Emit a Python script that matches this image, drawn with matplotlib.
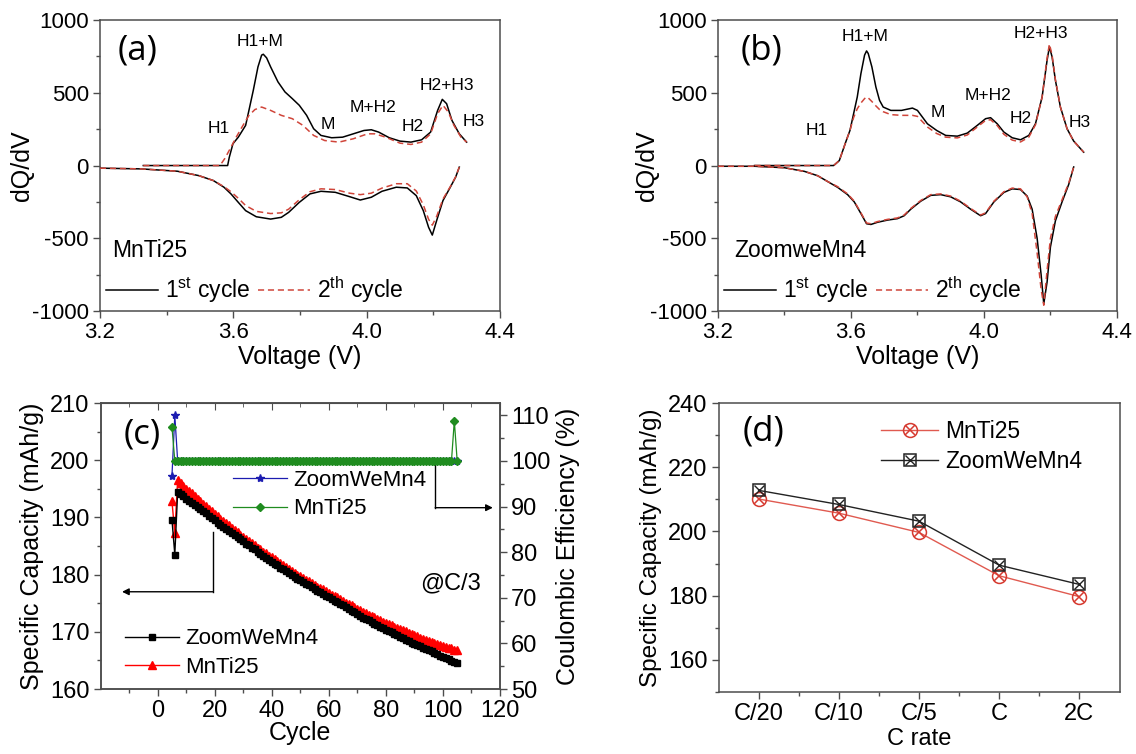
import numpy as np
import matplotlib
matplotlib.use('Agg')
import matplotlib.pyplot as plt
from matplotlib.ticker import MultipleLocator, FixedLocator

plt.rcParams['font.family'] = ['Liberation Sans', 'DejaVu Sans']
plt.rcParams['mathtext.fontset'] = 'custom'
plt.rcParams['mathtext.rm'] = 'Liberation Sans'
plt.rcParams['mathtext.it'] = 'Liberation Sans:italic'
plt.rcParams['axes.unicode_minus'] = False

# ---- (a) MnTi25 dQ/dV ----
a_v1_chg = [3.33, 3.45, 3.583, 3.588, 3.599, 3.615, 3.637, 3.647, 3.660, 3.674, 3.685, 3.690, 3.700,
            3.712, 3.734, 3.755, 3.777, 3.798, 3.820, 3.841, 3.863, 3.895, 3.928, 3.960, 3.992, 4.014,
            4.036, 4.068, 4.100, 4.133, 4.165, 4.192, 4.213, 4.227, 4.240, 4.256, 4.278, 4.300]
a_q1_chg = [0, 0, 0, 57, 150, 195, 276, 380, 517, 678, 759, 765, 740, 678, 575, 506, 460, 414, 345,
            253, 207, 191, 195, 218, 241, 246, 230, 191, 168, 161, 177, 230, 379, 455, 425, 310, 218, 161]
a_v2_chg = [3.33, 3.45, 3.560, 3.575, 3.593, 3.610, 3.626, 3.647, 3.665, 3.685, 3.712, 3.744, 3.777,
            3.809, 3.841, 3.874, 3.917, 3.960, 4.003, 4.025, 4.057, 4.100, 4.133, 4.165, 4.192, 4.213,
            4.229, 4.245, 4.262, 4.283, 4.300]
a_q2_chg = [0, 0, 0, 50, 126, 200, 264, 345, 385, 402, 379, 345, 322, 276, 207, 172, 161, 184, 218,
            218, 195, 154, 145, 161, 218, 356, 414, 368, 276, 195, 161]
a_v_dis = [3.2, 3.324, 3.432, 3.496, 3.54, 3.572, 3.593, 3.615, 3.637, 3.669, 3.712, 3.744, 3.766,
           3.798, 3.83, 3.863, 3.906, 3.949, 3.981, 4.014, 4.046, 4.089, 4.122, 4.149, 4.17, 4.186,
           4.197, 4.21, 4.229, 4.251, 4.267, 4.278]
a_q1_dis = [-18, -23, -39, -69, -103, -149, -195, -253, -310, -352, -368, -356, -322, -253, -195, -177,
            -184, -214, -237, -218, -177, -149, -154, -207, -310, -425, -478, -379, -241, -149, -80, -11]
a_q2_dis = [-18, -23, -39, -69, -103, -145, -180, -225, -275, -315, -330, -325, -300, -235, -180, -160,
            -165, -190, -200, -190, -155, -125, -125, -175, -270, -370, -410, -350, -230, -145, -78, -11]

# ---- (b) ZoomweMn4 dQ/dV ----
b_v_chg = [3.31, 3.548, 3.565, 3.586, 3.597, 3.608, 3.619, 3.63, 3.641, 3.647, 3.652, 3.663, 3.675,
           3.686, 3.697, 3.72, 3.752, 3.785, 3.80, 3.83, 3.858, 3.885, 3.92, 3.95, 3.98, 4.005, 4.02,
           4.04, 4.06, 4.085, 4.11, 4.135, 4.155, 4.175, 4.19, 4.197, 4.205, 4.215, 4.23, 4.25, 4.27, 4.30]
b_q1_chg = [0, 0, 34, 172, 241, 356, 471, 632, 759, 788, 770, 678, 540, 448, 402, 379, 379, 395, 379,
            287, 241, 207, 202, 223, 276, 322, 329, 287, 230, 191, 177, 207, 287, 471, 724, 816, 747,
            586, 402, 253, 168, 92]
b_q2_chg = [0, 0, 34, 172, 241, 330, 390, 430, 460, 471, 465, 440, 410, 385, 370, 350, 345, 345, 338,
            265, 220, 195, 190, 210, 265, 310, 315, 275, 215, 175, 162, 195, 280, 470, 740, 835, 760,
            590, 402, 253, 168, 92]
b_v_dis = [3.2, 3.31, 3.4, 3.46, 3.5, 3.53, 3.56, 3.59, 3.61, 3.63, 3.647, 3.66, 3.68, 3.71, 3.74,
           3.76, 3.78, 3.81, 3.84, 3.87, 3.9, 3.93, 3.96, 3.99, 4.005, 4.03, 4.06, 4.085, 4.11, 4.13,
           4.145, 4.16, 4.172, 4.18, 4.19, 4.2, 4.215, 4.235, 4.255, 4.27]
b_q1_dis = [-5, -5, -15, -40, -70, -110, -150, -200, -250, -330, -400, -405, -390, -375, -365, -345,
            -300, -245, -205, -200, -215, -250, -300, -345, -330, -250, -185, -160, -165, -210, -300,
            -500, -750, -950, -800, -560, -380, -250, -130, -10]
b_q2_dis = [-5, -5, -15, -40, -70, -110, -145, -195, -245, -325, -395, -400, -385, -370, -360, -340,
            -295, -240, -200, -195, -210, -245, -295, -340, -325, -245, -180, -155, -160, -215, -330,
            -600, -850, -960, -720, -500, -350, -235, -120, -10]

# ---- (c) cycling at C/3 ----
cycles = np.arange(5, 106)
cap_zoom = [189.6, 183.5,
            194.5, 194.1, 193.7, 193.3, 192.9, 192.6, 192.2, 191.9, 191.5,
            191.1, 190.7, 190.3, 189.9, 189.5, 189.1, 188.7, 188.4, 188.0, 187.6,
            187.2, 186.9, 186.5, 186.2, 185.8, 185.4, 185.1, 184.7, 184.4, 184.0,
            183.6, 183.3, 182.9, 182.6, 182.2, 181.9, 181.6, 181.2, 180.9, 180.6,
            180.3, 179.9, 179.6, 179.3, 179.0, 178.7, 178.4, 178.1, 177.8, 177.5,
            177.2, 176.9, 176.6, 176.3, 176.0, 175.7, 175.4, 175.2, 174.9, 174.6,
            174.3, 174.0, 173.7, 173.4, 173.1, 172.8, 172.5, 172.3, 172.0, 171.7,
            171.4, 171.2, 170.9, 170.7, 170.4, 170.1, 169.9, 169.6, 169.4, 169.1,
            168.9, 168.6, 168.4, 168.1, 167.9, 167.7, 167.5, 167.2, 167.0, 166.8,
            166.6, 166.3, 166.1, 165.8, 165.6, 165.4, 165.2, 164.9, 164.7, 164.5]
cap_mnti = [192.8, 187.3,
            196.6, 196.1, 195.5, 195.0, 194.6, 194.2, 193.7, 193.3, 192.9,
            192.4, 192.0, 191.5, 191.1, 190.6, 190.2, 189.8, 189.4, 189.0, 188.6,
            188.2, 187.8, 187.4, 187.0, 186.6, 186.2, 185.8, 185.5, 185.1, 184.7,
            184.4, 184.0, 183.7, 183.3, 183.0, 182.7, 182.3, 182.0, 181.6, 181.3,
            181.0, 180.7, 180.3, 180.0, 179.7, 179.4, 179.1, 178.8, 178.5, 178.2,
            177.9, 177.6, 177.4, 177.1, 176.8, 176.5, 176.2, 176.0, 175.7, 175.4,
            175.1, 174.8, 174.6, 174.3, 174.0, 173.8, 173.5, 173.3, 173.0, 172.8,
            172.6, 172.3, 172.1, 171.8, 171.6, 171.4, 171.2, 170.9, 170.7, 170.5,
            170.3, 170.1, 169.8, 169.6, 169.4, 169.2, 169.0, 168.8, 168.6, 168.4,
            168.2, 168.0, 167.9, 167.7, 167.5, 167.4, 167.2, 167.1, 166.9, 166.8]
ce_zoom = [96.7, 110.0,
           100, 100, 100, 100, 100, 100, 100, 100, 100, 100, 100, 100, 100, 100, 100, 100, 100, 100,
           100, 100, 100, 100, 100, 100, 100, 100, 100, 100, 100, 100, 100, 100, 100, 100, 100, 100,
           100, 100, 100, 100, 100, 100, 100, 100, 100, 100, 100, 100, 100, 100, 100, 100, 100, 100,
           100, 100, 100, 100, 100, 100, 100, 100, 100, 100, 100, 100, 100, 100, 100, 100, 100, 100,
           100, 100, 100, 100, 100, 100, 100, 100, 100, 100, 100, 100, 100, 100, 100, 100, 100, 100,
           100, 100, 100, 100, 100, 100, 100, 100, 100]
ce_mnti = [107.5, 100,
           100, 100, 100, 100, 100, 100, 100, 100, 100, 100, 100, 100, 100, 100, 100, 100, 100, 100,
           100, 100, 100, 100, 100, 100, 100, 100, 100, 100, 100, 100, 100, 100, 100, 100, 100, 100,
           100, 100, 100, 100, 100, 100, 100, 100, 100, 100, 100, 100, 100, 100, 100, 100, 100, 100,
           100, 100, 100, 100, 100, 100, 100, 100, 100, 100, 100, 100, 100, 100, 100, 100, 100, 100,
           100, 100, 100, 100, 100, 100, 100, 100, 100, 100, 100, 100, 100, 100, 100, 100, 100, 100,
           100, 100, 100, 100, 100, 100, 100, 108.8, 100]

# ---- (d) rate capability ----
rates = ['C/20', 'C/10', 'C/5', 'C', '2C']
rate_mnti = [210.1, 205.7, 199.7, 186.2, 179.7]
rate_zoom = [212.8, 208.4, 203.2, 189.5, 183.5]

SPINE = '#4d4d4d'
RED_DASH = '#d0453a'
TICK_FS = 16
LABEL_FS = 18

fig = plt.figure(figsize=(11.36, 7.54), dpi=100)
ax_a = fig.add_axes([0.0880, 0.5875, 0.3521, 0.3859])
ax_b = fig.add_axes([0.6320, 0.5875, 0.3512, 0.3859])
ax_c = fig.add_axes([0.0886, 0.0862, 0.3515, 0.3793])
ax_d = fig.add_axes([0.6325, 0.0822, 0.3530, 0.3833])


def frame(ax, fs=TICK_FS):
    for s in ax.spines.values():
        s.set_color(SPINE)
        s.set_linewidth(1.1)
    ax.tick_params(which='both', direction='out', color=SPINE, width=1.0, labelsize=fs, pad=3)
    ax.tick_params(which='major', length=5)
    ax.tick_params(which='minor', length=3)


def dqdv_panel(ax, tag, name, ylab_x, v1c, q1c, v2c, q2c, vd, q1d, q2d, notes):
    ax.plot(v1c, q1c, color='black', lw=1.1, zorder=3)
    ax.plot(vd, q1d, color='black', lw=1.1, zorder=3)
    l1, = ax.plot([], [], color='black', lw=1.1)
    ax.plot(v2c, q2c, color=RED_DASH, lw=1.1, dashes=(4, 2.5), zorder=4)
    ax.plot(vd, q2d, color=RED_DASH, lw=1.1, dashes=(4, 2.5), zorder=4)
    l2, = ax.plot([], [], color=RED_DASH, lw=1.1, dashes=(4, 2.5))
    ax.set_xlim(3.2, 4.4)
    ax.set_ylim(-1000, 1000)
    ax.set_xticks([3.2, 3.6, 4.0, 4.4])
    ax.set_xticklabels(['3.2', '3.6', '4.0', '4.4'])
    ax.xaxis.set_minor_locator(MultipleLocator(0.2))
    ax.set_yticks([-1000, -500, 0, 500, 1000])
    ax.yaxis.set_minor_locator(MultipleLocator(250))
    frame(ax)
    ax.set_xlabel('Voltage (V)', fontsize=LABEL_FS, labelpad=1)
    ax.set_ylabel('dQ/dV', fontsize=LABEL_FS)
    ax.yaxis.set_label_coords(ylab_x, 0.5)
    ax.text(tag[1], tag[2], tag[0], fontsize=25, family=['Open Sans', 'DejaVu Sans'],
            ha='center', va='center')
    ax.text(name[1], -586, name[0], fontsize=16.5, ha='left', va='center')
    for txt, x, y in notes:
        ax.text(x, y, txt, fontsize=12.5, ha='center', va='center')
    ax.legend([l1, l2], [r'1$^{\mathrm{st}}$ cycle', r'2$^{\mathrm{th}}$ cycle'],
              loc='lower left', ncol=2, frameon=False, fontsize=16.5, handlelength=2.3,
              handletextpad=0.3, columnspacing=0.3, borderpad=0.15, borderaxespad=0.1)


dqdv_panel(ax_a, ('(a)', 3.313, 793), ('MnTi25', 3.236), -0.165,
           a_v1_chg, a_q1_chg, a_v2_chg, a_q2_chg, a_v_dis, a_q1_dis, a_q2_dis,
           [('H1+M', 3.68, 850), ('H1', 3.556, 253), ('M', 3.885, 283), ('M+H2', 4.02, 402),
            ('H2', 4.138, 269), ('H2+H3', 4.24, 552), ('H3', 4.321, 306)])
dqdv_panel(ax_b, ('(b)', 3.332, 793), ('ZoomweMn4', 3.25), -0.148,
           b_v_chg, b_q1_chg, b_v_chg, b_q2_chg, b_v_dis, b_q1_dis, b_q2_dis,
           [('H1+M', 3.642, 885), ('H1', 3.498, 241), ('M', 3.862, 368), ('M+H2', 4.011, 483),
            ('H2', 4.111, 322), ('H2+H3', 4.171, 908), ('H3', 4.287, 299)])

# ---- (c) ----
ax_ce = ax_c.twinx()
h_cz, = ax_c.plot(cycles, cap_zoom, color='black', lw=1, marker='s', ms=5, zorder=3)
h_cm, = ax_c.plot(cycles, cap_mnti, color='#ff0000', lw=1, marker='^', ms=5.5, zorder=2)
h_ez, = ax_ce.plot(cycles, ce_zoom, color='#1c1cb0', lw=0.9, marker='*', ms=6)
h_em, = ax_ce.plot(cycles, ce_mnti, color='#1f8c1f', lw=0.9, marker='D', ms=3.8)
ax_c.set_xlim(-20, 120)
ax_c.set_ylim(160, 210)
ax_ce.set_ylim(50, 112.7)
ax_c.set_xticks(np.arange(0, 121, 20))
ax_c.xaxis.set_minor_locator(FixedLocator(np.arange(-10, 121, 10)))
ax_c.set_yticks(np.arange(160, 211, 10))
ax_c.yaxis.set_minor_locator(MultipleLocator(5))
ax_ce.set_yticks(np.arange(50, 111, 10))
ax_ce.yaxis.set_minor_locator(MultipleLocator(5))
frame(ax_c, 17)
frame(ax_ce, 17)
top = ax_c.secondary_xaxis('top')
top.set_xticks(np.arange(0, 121, 20))
top.xaxis.set_minor_locator(FixedLocator(np.arange(-10, 121, 10)))
top.tick_params(which='both', direction='in', labeltop=False, color=SPINE)
top.tick_params(which='major', length=5)
top.tick_params(which='minor', length=3)
top.spines['top'].set_color(SPINE)
ax_c.set_xlabel('Cycle', fontsize=LABEL_FS, labelpad=-1)
ax_c.set_ylabel('Specific Capacity (mAh/g)', fontsize=LABEL_FS, labelpad=4)
ax_ce.set_ylabel('Coulombic Efficiency (%)', fontsize=LABEL_FS, labelpad=4)
ax_c.text(-5.3, 204.5, '(c)', fontsize=25, family=['Open Sans', 'DejaVu Sans'],
          ha='center', va='center')
ax_c.text(102.7, 178.4, '@C/3', fontsize=17, ha='center', va='center')

# guide arrows pointing to each axis
ax_c.plot([19.3, 19.3], [187.4, 177.0], color='black', lw=1)
ax_c.annotate('', xy=(-12.5, 177.0), xytext=(19.3, 177.0),
              arrowprops=dict(arrowstyle='-|>', color='black', lw=1, mutation_scale=10,
                              shrinkA=0, shrinkB=0))
ax_c.plot([97.3, 97.3], [199.3, 191.7], color='black', lw=1)
ax_c.annotate('', xy=(117.5, 191.7), xytext=(97.3, 191.7),
              arrowprops=dict(arrowstyle='-|>', color='black', lw=1, mutation_scale=10,
                              shrinkA=0, shrinkB=0))

ax_c.legend([h_cz, h_cm], ['ZoomWeMn4', 'MnTi25'], loc='upper left',
            bbox_to_anchor=(0.062, 0.212), frameon=False, fontsize=16,
            handlelength=2.4, handletextpad=0.3, labelspacing=0.35,
            borderpad=0, borderaxespad=0)
ax_ce.legend([h_ez, h_em], ['ZoomWeMn4', 'MnTi25'], loc='upper left',
             bbox_to_anchor=(0.332, 0.767), frameon=False, fontsize=16,
             handlelength=2.4, handletextpad=0.3, labelspacing=0.35,
             borderpad=0, borderaxespad=0)

# ---- (d) ----
xpos = np.arange(len(rates))
m1, = ax_d.plot(xpos, rate_mnti, color='#e05a50', lw=1, marker='o', ms=10, mfc='none',
                mec='#d63a30', mew=1.1)
m1x, = ax_d.plot(xpos, rate_mnti, ls='none', marker='x', ms=7, mec='#d63a30', mew=1.1)
m2, = ax_d.plot(xpos, rate_zoom, color='#222222', lw=1, marker='s', ms=8, mfc='none',
                mec='#222222', mew=1.1)
m2x, = ax_d.plot(xpos, rate_zoom, ls='none', marker='x', ms=7, mec='#222222', mew=1.0)
ax_d.set_xlim(-0.5, 4.5)
ax_d.set_ylim(150, 240)
ax_d.set_xticks(xpos)
ax_d.set_xticklabels(rates)
ax_d.xaxis.set_minor_locator(FixedLocator([0.5, 1.5, 2.5, 3.5]))
ax_d.set_yticks(np.arange(160, 241, 20))
ax_d.yaxis.set_minor_locator(MultipleLocator(10))
frame(ax_d, 17)
ax_d.set_xlabel('C rate', fontsize=17, labelpad=2)
ax_d.set_ylabel('Specific Capacity (mAh/g)', fontsize=17.5, labelpad=4)
ax_d.text(0.056, 231, '(d)', fontsize=25, family=['Open Sans', 'DejaVu Sans'],
          ha='center', va='center')
ax_d.legend([(m1, m1x), (m2, m2x)], ['MnTi25', 'ZoomWeMn4'], loc='upper left',
            bbox_to_anchor=(0.405, 0.94), frameon=False, fontsize=16.5,
            handlelength=2.5, handletextpad=0.3, labelspacing=0.3,
            borderpad=0, borderaxespad=0)

fig.savefig('out.png', dpi=100)
